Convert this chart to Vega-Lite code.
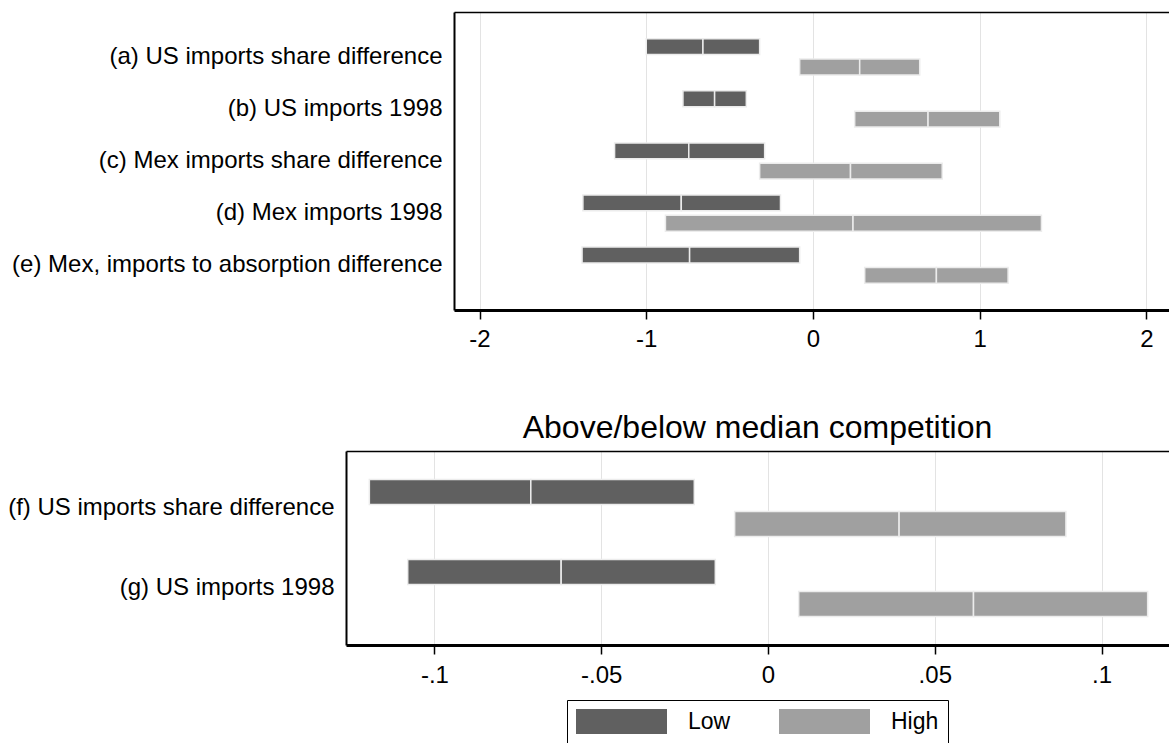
{
  "$schema": "https://vega.github.io/schema/vega-lite/v6.json",
  "description": "Point estimates and confidence ranges for low and high competition groups, two panels.",
  "background": "white",
  "padding": {"left": 7, "top": 12, "right": 0, "bottom": 0},
  "datasets": {
    "top": [
      {"row": "(a) US imports share difference", "group": "Low", "lo": -1.0, "mid": -0.66, "hi": -0.32},
      {"row": "(a) US imports share difference", "group": "High", "lo": -0.08, "mid": 0.28, "hi": 0.64},
      {"row": "(b) US imports 1998", "group": "Low", "lo": -0.78, "mid": -0.59, "hi": -0.4},
      {"row": "(b) US imports 1998", "group": "High", "lo": 0.25, "mid": 0.69, "hi": 1.12},
      {"row": "(c) Mex imports share difference", "group": "Low", "lo": -1.19, "mid": -0.745, "hi": -0.29},
      {"row": "(c) Mex imports share difference", "group": "High", "lo": -0.32, "mid": 0.225, "hi": 0.775},
      {"row": "(d) Mex imports 1998", "group": "Low", "lo": -1.38, "mid": -0.79, "hi": -0.195},
      {"row": "(d) Mex imports 1998", "group": "High", "lo": -0.885, "mid": 0.24, "hi": 1.37},
      {"row": "(e) Mex, imports to absorption difference", "group": "Low", "lo": -1.385, "mid": -0.74, "hi": -0.08},
      {"row": "(e) Mex, imports to absorption difference", "group": "High", "lo": 0.31, "mid": 0.74, "hi": 1.17}
    ],
    "bottom": [
      {"row": "(f) US imports share difference", "group": "Low", "lo": -0.1195, "mid": -0.0711, "hi": -0.0221},
      {"row": "(f) US imports share difference", "group": "High", "lo": -0.01, "mid": 0.0393, "hi": 0.0893},
      {"row": "(g) US imports 1998", "group": "Low", "lo": -0.108, "mid": -0.062, "hi": -0.0158},
      {"row": "(g) US imports 1998", "group": "High", "lo": 0.0092, "mid": 0.0616, "hi": 0.1138}
    ]
  },
  "vconcat": [
    {
      "data": {"name": "top"},
      "width": 823,
      "height": {"step": 20.35},
      "encoding": {
        "y": {
          "field": "row", "type": "nominal", "sort": null, "title": null,
          "scale": {"paddingInner": 0, "paddingOuter": 0.36},
          "axis": {"offset": -108, "labelFontSize": 24, "labelPadding": 12, "ticks": false, "labelLimit": 0, "domainColor": "black", "domainWidth": 2, "labelColor": "black"}
        },
        "yOffset": {
          "field": "group", "type": "nominal", "sort": ["Low", "High"],
          "scale": {"paddingInner": 0.22, "paddingOuter": 0.39}
        },
        "color": {
          "field": "group", "type": "nominal",
          "scale": {"domain": ["Low", "High"], "range": ["#606060", "#a0a0a0"]},
          "legend": {"orient": "none", "legendX": 221, "legendY": 688, "direction": "horizontal", "title": null,
            "symbolType": "M-3.64,-1H3.64V1H-3.64Z", "symbolSize": 625, "symbolOffset": 33, "symbolStrokeWidth": 0,
            "labelFontSize": 23, "labelOffset": 54, "columnPadding": 48, "padding": 9,
            "strokeColor": "black", "fillColor": "white", "labelColor": "black"}
        }
      },
      "layer": [
        {
          "mark": {"type": "bar", "stroke": "#ececec", "strokeWidth": 1.5},
          "encoding": {
            "x": {
              "field": "lo", "type": "quantitative", "title": null,
              "scale": {"domain": [-2.153, 2.135], "range": [108, 823], "nice": false, "zero": false},
              "axis": {"orient": "bottom", "values": [-2, -1, 0, 1, 2], "labelExpr": "replace('' + datum.value, '0.', '.')",
                "labelFontSize": 24, "labelColor": "black", "labelPadding": 9, "labelFlush": false,
                "tickColor": "black", "tickSize": 9, "tickWidth": 1.5,
                "domainColor": "black", "domainWidth": 3, "grid": true, "gridColor": "#e3e3e3", "gridWidth": 1}
            },
            "x2": {"field": "mid"}
          }
        },
        {
          "mark": {"type": "bar", "stroke": "#ececec", "strokeWidth": 1.5},
          "encoding": {
            "x": {
              "field": "mid", "type": "quantitative", "title": null,
              "scale": {"domain": [-2.153, 2.135], "range": [108, 823], "nice": false, "zero": false},
              "axis": {"orient": "top", "labels": false, "ticks": false, "grid": false, "domainColor": "black", "domainWidth": 1.5}
            },
            "x2": {"field": "hi"}
          }
        }
      ],
      "resolve": {"axis": {"x": "independent"}}
    },
    {
      "data": {"name": "bottom"},
      "width": 823,
      "height": {"step": 32},
      "title": {"text": "Above/below median competition", "fontSize": 32, "fontWeight": "normal", "color": "black", "offset": 6, "anchor": "middle"},
      "encoding": {
        "y": {
          "field": "row", "type": "nominal", "sort": null, "title": null,
          "scale": {"paddingInner": 0, "paddingOuter": 0.2125},
          "axis": {"labelFontSize": 24, "labelPadding": 12, "ticks": false, "labelLimit": 0, "domainColor": "black", "domainWidth": 2, "labelColor": "black"}
        },
        "yOffset": {
          "field": "group", "type": "nominal", "sort": ["Low", "High"],
          "scale": {"paddingInner": 0.22, "paddingOuter": 0.36}
        },
        "color": {
          "field": "group", "type": "nominal",
          "scale": {"domain": ["Low", "High"], "range": ["#606060", "#a0a0a0"]},
          "legend": {"orient": "none", "legendX": 221, "legendY": 688, "direction": "horizontal", "title": null,
            "symbolType": "M-3.64,-1H3.64V1H-3.64Z", "symbolSize": 625, "symbolOffset": 33, "symbolStrokeWidth": 0,
            "labelFontSize": 23, "labelOffset": 54, "columnPadding": 48, "padding": 9,
            "strokeColor": "black", "fillColor": "white", "labelColor": "black"}
        }
      },
      "layer": [
        {
          "mark": {"type": "bar", "stroke": "#ececec", "strokeWidth": 1.5},
          "encoding": {
            "x": {
              "field": "lo", "type": "quantitative", "title": null,
              "scale": {"domain": [-0.1265, 0.1202], "nice": false, "zero": false},
              "axis": {"orient": "bottom", "values": [-0.1, -0.05, 0, 0.05, 0.1], "labelExpr": "replace('' + datum.value, '0.', '.')",
                "labelFontSize": 24, "labelColor": "black", "labelPadding": 9, "labelFlush": false,
                "tickColor": "black", "tickSize": 9, "tickWidth": 1.5,
                "domainColor": "black", "domainWidth": 3, "grid": true, "gridColor": "#e3e3e3", "gridWidth": 1}
            },
            "x2": {"field": "mid"}
          }
        },
        {
          "mark": {"type": "bar", "stroke": "#ececec", "strokeWidth": 1.5},
          "encoding": {
            "x": {
              "field": "mid", "type": "quantitative", "title": null,
              "scale": {"domain": [-0.1265, 0.1202], "nice": false, "zero": false},
              "axis": {"orient": "top", "labels": false, "ticks": false, "grid": false, "domainColor": "black", "domainWidth": 1.5}
            },
            "x2": {"field": "hi"}
          }
        }
      ],
      "resolve": {"axis": {"x": "independent"}}
    }
  ],
  "spacing": 60,
  "resolve": {"scale": {"yOffset": "independent"}},
  "config": {
    "font": "Liberation Sans",
    "view": {"stroke": null},
    "axis": {"labelFont": "Liberation Sans"},
    "legend": {"labelFont": "Liberation Sans"}
  }
}
